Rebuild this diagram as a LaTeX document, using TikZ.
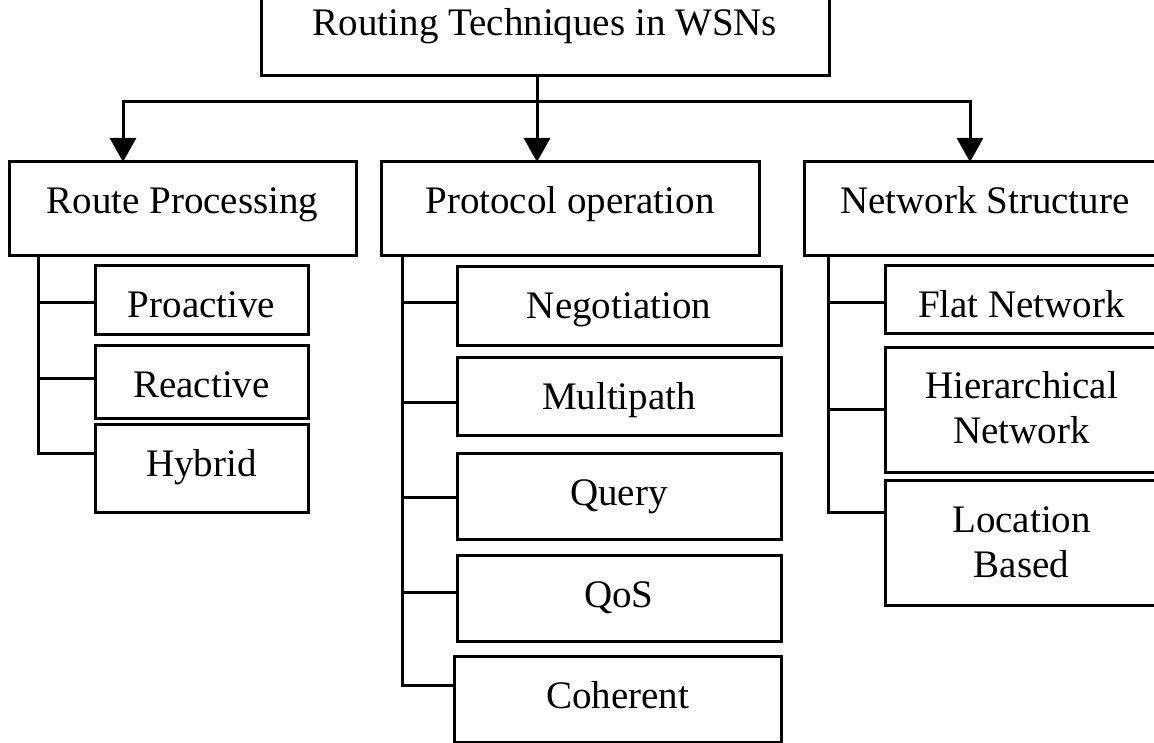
\documentclass[tikz,border=0pt]{standalone}
\usepackage{fontspec}
\setmainfont{Liberation Serif}
\usetikzlibrary{arrows.meta,fit}

\tikzset{
  wbox/.style={draw, rectangle, line width=3pt, inner sep=0pt, outer sep=0pt},
  wtext/.style={anchor=base, inner sep=0pt, align=center,
                font=\fontsize{39}{45}\selectfont},
  link/.style={line width=3pt},
  down/.style={line width=3pt, -{Triangle[width=26pt,length=24pt]}},
}

% box from (left,top) to (right,bottom); the label's last baseline sits
% a fixed distance (optional argument, default 52pt) below the top edge
\newcommand\wsnbox[6][52]{%
  \node[wbox, fit={(#3,#4) (#5,#6)}] (#2) {};
  \node[wtext] (#2-label) at ([yshift=-#1pt]#2.north) {\wsnlabel};
}
\newcommand\wsnlabel{}
\newcommand\wsn[7][52]{%
  \renewcommand\wsnlabel{#7}%
  \wsnbox[#1]{#2}{#3}{#4}{#5}{#6}%
}

\begin{document}
\begin{tikzpicture}[x=1pt, y=-1pt, line join=miter]
\useasboundingbox (0,0) rectangle (1154,743);
\clip (0,0) rectangle (1154,743);

% root
\wsn{root}{261}{-16}{829}{76}{Routing Techniques in WSNs}

% second level
\wsn{route}{9}{162}{356}{256}{Route Processing}
\wsn{proto}{381}{162}{759}{256}{Protocol operation}
\wsn{net}{804}{162}{1166}{256}{Network Structure}

% route processing
\wsn{pro}{95}{266}{308}{335}{Proactive}
\wsn{rea}{95}{345}{308}{418}{Reactive}
\wsn{hyb}{95}{424}{308}{512}{Hybrid}

% protocol operation
\wsn{neg}{457}{267}{781}{345}{Negotiation}
\wsn{mul}{457}{357}{781}{435}{Multipath}
\wsn{que}{457}{453}{781}{539}{Query}
\wsn{qos}{457}{555}{781}{641}{QoS}
\wsn{coh}{454}{656}{781}{742}{Coherent}

% network structure
\wsn{flat}{885}{266}{1158}{334}{Flat Network}
\wsn[96]{hier}{885}{347}{1158}{472}{Hierarchical\\Network}
\wsn[97]{loc}{885}{480}{1158}{605}{Location\\Based}

% distribution bus
\coordinate (j) at (537,102);
\coordinate (la) at (123,102);
\coordinate (ra) at (970,102);
\draw[link] (root.south -| j) -- (j);
\draw[down] (j) -- (j |- proto.north);
\draw[down] (j) -- (la) -- (la |- route.north);
\draw[down] (j) -- (ra) -- (ra |- net.north);

% route processing branches
\draw[link] (route.south -| 38,0) |- (hyb.west |- 0,453);
\foreach \n/\y in {pro/303, rea/378}
  \draw[link] (38,\y) -- (\n.west |- 0,\y);

% protocol operation branches
\draw[link] (proto.south -| 402,0) |- (coh.west |- 0,685);
\foreach \n/\y in {neg/303, mul/402, que/497, qos/592}
  \draw[link] (402,\y) -- (\n.west |- 0,\y);

% network structure branches
\draw[link] (net.south -| 828,0) |- (loc.west |- 0,512);
\foreach \n/\y in {flat/303, hier/409}
  \draw[link] (828,\y) -- (\n.west |- 0,\y);
\end{tikzpicture}
\end{document}
